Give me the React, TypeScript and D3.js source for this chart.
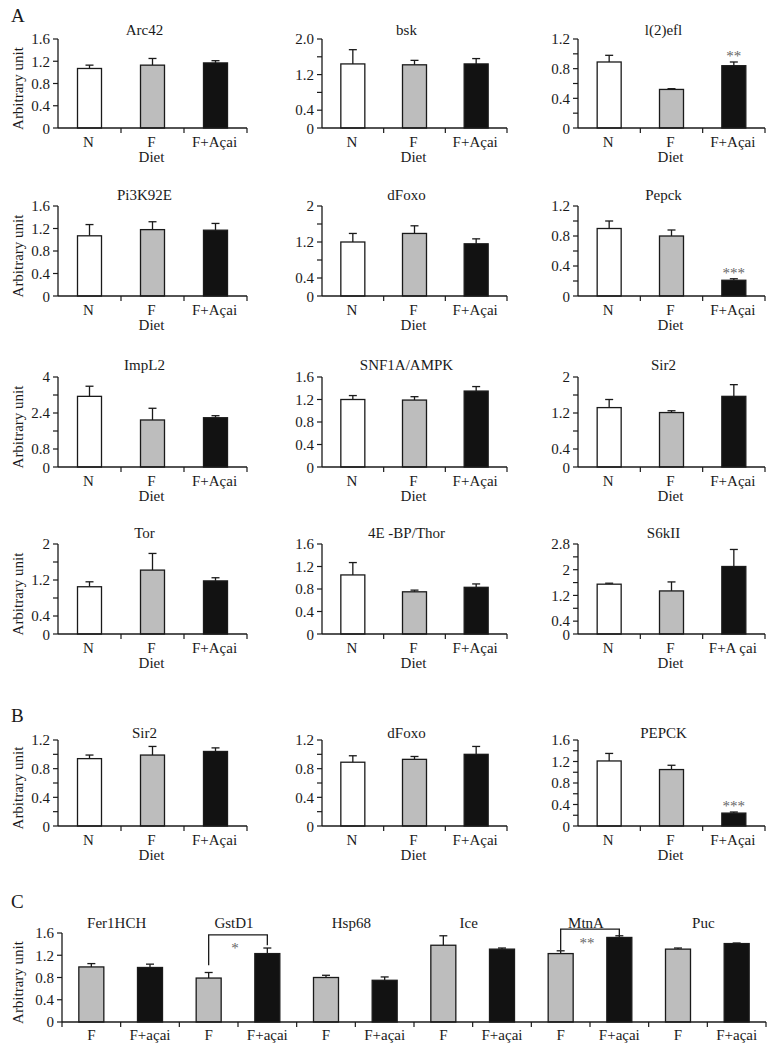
import React from "react";
import * as d3 from "d3";

// ---------- Panel A data ----------
const dietsA = ["N", "F", "F+Açai"];
const dietsS6k = ["N", "F", "F+A çai"];
const genesA = ["Arc42", "bsk", "l(2)efl", "Pi3K92E", "dFoxo", "Pepck", "ImpL2", "SNF1A/AMPK", "Sir2", "Tor", "4E -BP/Thor", "S6kII"];
const meanN_A = [1.07, 1.44, 0.89, 1.07, 1.2, 0.9, 3.14, 1.2, 1.32, 1.05, 1.05, 1.55];
const meanF_A = [1.13, 1.42, 0.52, 1.18, 1.39, 0.8, 2.09, 1.19, 1.21, 1.42, 0.75, 1.34];
const meanFA_A = [1.17, 1.44, 0.84, 1.17, 1.16, 0.21, 2.19, 1.35, 1.57, 1.18, 0.83, 2.1];
const errN_A = [0.06, 0.32, 0.09, 0.2, 0.19, 0.1, 0.45, 0.07, 0.18, 0.11, 0.22, 0.03];
const errF_A = [0.12, 0.1, 0.01, 0.14, 0.17, 0.08, 0.52, 0.06, 0.04, 0.37, 0.03, 0.28];
const errFA_A = [0.04, 0.12, 0.05, 0.12, 0.11, 0.02, 0.09, 0.08, 0.26, 0.07, 0.06, 0.53];
const sigA = ["", "", "**", "", "", "***", "", "", "", "", "", ""];
const yMaxA = [1.6, 2.0, 1.2, 1.6, 2, 1.2, 4, 1.6, 2, 2, 1.6, 2.8];
const minorStepA = [0.4, 0.4, 0.2, 0.4, 0.4, 0.2, 0.8, 0.4, 0.4, 0.4, 0.4, 0.4];
const tickLabelsA = [
  ["0", "0.4", "0.8", "1.2", "1.6"],
  ["0", "0.4", "1.2", "2.0"],
  ["0", "0.4", "0.8", "1.2"],
  ["0", "0.4", "0.8", "1.2", "1.6"],
  ["0", "0.4", "1.2", "2"],
  ["0", "0.4", "0.8", "1.2"],
  ["0", "0.8", "2.4", "4"],
  ["0", "0.4", "0.8", "1.2", "1.6"],
  ["0", "0.4", "1.2", "2"],
  ["0", "0.4", "1.2", "2"],
  ["0", "0.4", "0.8", "1.2", "1.6"],
  ["0", "0.4", "1.2", "2", "2.8"],
];

// ---------- Panel B data ----------
const genesB = ["Sir2", "dFoxo", "PEPCK"];
const meanN_B = [0.94, 0.89, 1.21];
const meanF_B = [0.99, 0.93, 1.05];
const meanFA_B = [1.04, 1.0, 0.24];
const errN_B = [0.05, 0.09, 0.14];
const errF_B = [0.12, 0.04, 0.08];
const errFA_B = [0.05, 0.11, 0.02];
const sigB = ["", "", "***"];
const yMaxB = [1.2, 1.2, 1.6];
const minorStepB = [0.2, 0.2, 0.2];
const tickLabelsB = [
  ["0", "0.4", "0.8", "1.2"],
  ["0", "0.4", "0.8", "1.2"],
  ["0", "0.4", "0.8", "1.2", "1.6"],
];

// ---------- Panel C data ----------
const genesC = ["Fer1HCH", "GstD1", "Hsp68", "Ice", "MtnA", "Puc"];
const dietsC = ["F", "F+açai"];
const meanF_C = [0.99, 0.79, 0.8, 1.38, 1.23, 1.31];
const meanFA_C = [0.98, 1.23, 0.75, 1.31, 1.52, 1.41];
const errF_C = [0.06, 0.1, 0.04, 0.17, 0.05, 0.02];
const errFA_C = [0.06, 0.1, 0.06, 0.02, 0.03, 0.01];
const tickLabelsC = ["0", "0.4", "0.8", "1.2", "1.6"];
const yMaxC = 1.6;
const bracketGeneC = [1, 4];
const bracketTopC = [1.565, 1.67];
const bracketLeftC = [1.02, 1.29];
const bracketRightC = [1.38, 1.54];
const bracketSigC = ["*", "**"];
const bracketSigValC = [1.33, 1.42];

const FONT = "'Liberation Serif', 'Times New Roman', serif";
const INK = "#1a1a1a";
const STAR = "#666666";
const fillsA = ["#ffffff", "#bdbdbd", "#121212"];
const fillsC = ["#bdbdbd", "#121212"];

type PanelProps = {
  x0: number; x1: number; y0: number; y1: number;
  max: number; minorStep: number; labels: string[];
  cats: string[]; means: number[]; errs: number[]; fills: string[];
  title: string; titleOffset: number; titleX?: number;
  sig: string; showYLabel: boolean; showDiet: boolean; barW: number;
  catLabelDy: number;
};

function Panel(p: PanelProps) {
  const y = d3.scaleLinear().domain([0, p.max]).range([p.y0, p.y1]);
  const idx = p.cats.map((_, i) => String(i));
  const x = d3.scaleBand().domain(idx).range([p.x0, p.x1]);
  const bw = x.bandwidth();
  const minor = d3.range(0, p.max + 1e-6, p.minorStep);
  const cx = (p.x0 + p.x1) / 2;
  return (
    <g>
      {/* y axis */}
      <line x1={p.x0} x2={p.x0} y1={p.y0} y2={y(p.max)} stroke={INK} strokeWidth={1.3} />
      {minor.map((v, i) => (
        <line key={"mt" + i} x1={p.x0 - 5} x2={p.x0} y1={y(v)} y2={y(v)} stroke={INK} strokeWidth={1.2} />
      ))}
      {p.labels.map((l) => (
        <text key={"tl" + l} x={p.x0 - 8} y={y(parseFloat(l)) + (l === "0" ? 1 : 0)} dy="0.35em" textAnchor="end" fontSize={15} fontFamily={FONT} fill={INK}>{l}</text>
      ))}
      {/* bars */}
      {p.means.map((m, i) => {
        const bx = (x(String(i)) as number) + (bw - p.barW) / 2;
        const mx = bx + p.barW / 2;
        const top = y(m + p.errs[i]);
        return (
          <g key={"b" + i}>
            <line x1={mx} x2={mx} y1={y(m)} y2={top} stroke={INK} strokeWidth={1.3} />
            <line x1={mx - 4} x2={mx + 4} y1={top} y2={top} stroke={INK} strokeWidth={1.3} />
            <rect x={bx} y={y(m)} width={p.barW} height={p.y0 - y(m)} fill={p.fills[i % p.fills.length]} stroke={INK} strokeWidth={1.3} />
          </g>
        );
      })}
      {/* x axis */}
      <line x1={p.x0} x2={p.x1} y1={p.y0} y2={p.y0} stroke={INK} strokeWidth={1.3} />
      {idx.map((k) => (
        <line key={"xt" + k} x1={(x(k) as number) + bw} x2={(x(k) as number) + bw} y1={p.y0} y2={p.y0 + 5} stroke={INK} strokeWidth={1.2} />
      ))}
      {p.cats.map((c, i) => (
        <text key={"cl" + i} x={(x(String(i)) as number) + bw / 2 - 1} y={p.y0 + p.catLabelDy} textAnchor="middle" fontSize={15} fontFamily={FONT} fill={INK}>{c}</text>
      ))}
      {p.showDiet && (
        <text x={(x("1") as number) + bw / 2 - 1} y={p.y0 + 34} textAnchor="middle" fontSize={15} fontFamily={FONT} fill={INK}>Diet</text>
      )}
      {p.title && (
        <text x={p.titleX ?? cx - 8} y={p.y1 - p.titleOffset} textAnchor="middle" fontSize={15} fontFamily={FONT} fill={INK}>{p.title}</text>
      )}
      {p.sig && (
        <text x={(x("2") as number) + bw / 2} y={y(p.means[2] + p.errs[2]) - 1} textAnchor="middle" fontSize={15} fontFamily={FONT} fill={STAR}>{p.sig}</text>
      )}
      {p.showYLabel && (
        <text transform={`translate(23,${(p.y0 + p.y1) / 2 + 5}) rotate(-90)`} textAnchor="middle" fontSize={15} fontFamily={FONT} fill={INK}>Arbitrary unit</text>
      )}
    </g>
  );
}

export default function App() {
  const cols = [[58, 247], [322, 507], [578, 765]];
  const rowsA = [[128, 39, 4], [296, 206, 6], [467, 377, 7], [634, 544, 6]];
  const rowB = [826, 740, 2];

  // Panel C scales
  const cx0 = 62, cx1 = 766, cy0 = 1022, cy1 = 933;
  const yC = d3.scaleLinear().domain([0, yMaxC]).range([cy0, cy1]);
  const barsC: { label: string; mean: number; err: number; fill: string }[] = [];
  genesC.forEach((_, g) => {
    barsC.push({ label: dietsC[0], mean: meanF_C[g], err: errF_C[g], fill: fillsC[0] });
    barsC.push({ label: dietsC[1], mean: meanFA_C[g], err: errFA_C[g], fill: fillsC[1] });
  });
  const xC = d3.scaleBand().domain(barsC.map((_, i) => String(i))).range([cx0, cx1]);
  const bwC = xC.bandwidth();
  const centerC = (i: number) => (xC(String(i)) as number) + bwC / 2;

  return (
    <div style={{ position: "absolute", left: 0, top: 0 }}>
      <svg width={773} height={1050} style={{ display: "block", background: "#fff" }}>
        <text x={11} y={22} fontSize={19} fontFamily={FONT} fill={INK}>A</text>
        {genesA.map((g, i) => {
          const r = rowsA[Math.floor(i / 3)];
          const c = cols[i % 3];
          return (
            <Panel key={"A" + i}
              x0={c[0]} x1={c[1]} y0={r[0]} y1={r[1]}
              max={yMaxA[i]} minorStep={minorStepA[i]} labels={tickLabelsA[i]}
              cats={i === 11 ? dietsS6k : dietsA}
              means={[meanN_A[i], meanF_A[i], meanFA_A[i]]}
              errs={[errN_A[i], errF_A[i], errFA_A[i]]}
              fills={fillsA} title={g} titleOffset={r[2]} sig={sigA[i]}
              showYLabel={i % 3 === 0} showDiet={true} barW={24} catLabelDy={19} />
          );
        })}
        <text x={11} y={722} fontSize={19} fontFamily={FONT} fill={INK}>B</text>
        {genesB.map((g, i) => {
          const c = cols[i];
          return (
            <Panel key={"B" + i}
              x0={c[0]} x1={c[1]} y0={rowB[0]} y1={rowB[1]}
              max={yMaxB[i]} minorStep={minorStepB[i]} labels={tickLabelsB[i]}
              cats={dietsA}
              means={[meanN_B[i], meanF_B[i], meanFA_B[i]]}
              errs={[errN_B[i], errF_B[i], errFA_B[i]]}
              fills={fillsA} title={g} titleOffset={rowB[2]} sig={sigB[i]}
              showYLabel={i === 0} showDiet={true} barW={24} catLabelDy={19} />
          );
        })}

        {/* Panel C */}
        <text x={11} y={908} fontSize={19} fontFamily={FONT} fill={INK}>C</text>
        <g>
          <line x1={cx0} x2={cx0} y1={cy0} y2={yC(yMaxC)} stroke={INK} strokeWidth={1.3} />
          {tickLabelsC.map((l) => (
            <g key={"ct" + l}>
              <line x1={cx0 - 5} x2={cx0} y1={yC(parseFloat(l))} y2={yC(parseFloat(l))} stroke={INK} strokeWidth={1.2} />
              <text x={cx0 - 8} y={yC(parseFloat(l))} dy="0.35em" textAnchor="end" fontSize={15} fontFamily={FONT} fill={INK}>{l}</text>
            </g>
          ))}
          {barsC.map((b, i) => {
            const bx = (xC(String(i)) as number) + (bwC - 25) / 2;
            const mx = bx + 12.5;
            const top = yC(b.mean + b.err);
            return (
              <g key={"cb" + i}>
                <line x1={mx} x2={mx} y1={yC(b.mean)} y2={top} stroke={INK} strokeWidth={1.3} />
                <line x1={mx - 4} x2={mx + 4} y1={top} y2={top} stroke={INK} strokeWidth={1.3} />
                <rect x={bx} y={yC(b.mean)} width={25} height={cy0 - yC(b.mean)} fill={b.fill} stroke={INK} strokeWidth={1.3} />
                <text x={centerC(i)} y={cy0 + 18} textAnchor="middle" fontSize={15} fontFamily={FONT} fill={INK}>{b.label}</text>
              </g>
            );
          })}
          <line x1={cx0} x2={cx1} y1={cy0} y2={cy0} stroke={INK} strokeWidth={1.3} />
          {barsC.map((_, i) => (
            <line key={"cxt" + i} x1={(xC(String(i)) as number)} x2={(xC(String(i)) as number)} y1={cy0} y2={cy0 + 5} stroke={INK} strokeWidth={1.2} />
          ))}
          <line x1={cx1} x2={cx1} y1={cy0} y2={cy0 + 5} stroke={INK} strokeWidth={1.2} />
          {genesC.map((g, i) => (
            <text key={"cg" + g} x={(centerC(2 * i) + centerC(2 * i + 1)) / 2 - 4} y={928} textAnchor="middle" fontSize={15} fontFamily={FONT} fill={INK}>{g}</text>
          ))}
          {bracketGeneC.map((g, k) => {
            const l = centerC(2 * g), r = centerC(2 * g + 1);
            const path = `M${l},${yC(bracketLeftC[k])}V${yC(bracketTopC[k])}H${r}V${yC(bracketRightC[k])}`;
            return (
              <g key={"br" + k}>
                <path d={path} fill="none" stroke={INK} strokeWidth={1.3} />
                <text x={(l + r) / 2 - 3} y={yC(bracketSigValC[k]) + 5} textAnchor="middle" fontSize={15} fontFamily={FONT} fill={STAR}>{bracketSigC[k]}</text>
              </g>
            );
          })}
          <text transform={`translate(23,${(cy0 + cy1) / 2 + 5}) rotate(-90)`} textAnchor="middle" fontSize={15} fontFamily={FONT} fill={INK}>Arbitrary unit</text>
        </g>
      </svg>
    </div>
  );
}
